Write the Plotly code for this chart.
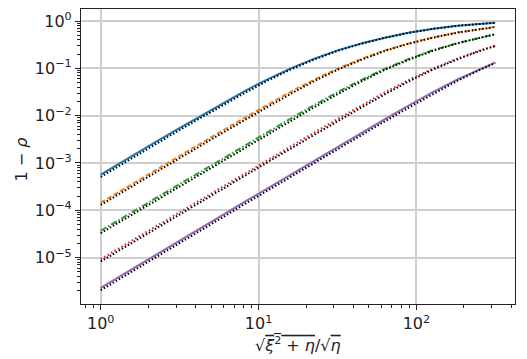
import plotly.graph_objects as go

# x positions (same grid for every curve)
x_vals = [1, 1.41, 2, 2.83, 4, 5.66, 8, 11.3, 16, 22.6, 32, 45.3, 64, 90.5, 128, 181, 256, 316]

# exact curves (coloured)
blue_y = [5.7e-4, 1.14e-3, 2.25e-3, 4.45e-3, 8.7e-3, 0.0168, 0.032, 0.058, 0.100, 0.160,
          0.243, 0.34, 0.45, 0.57, 0.685, 0.79, 0.878, 0.92]
orange_y = [1.45e-4, 2.88e-4, 5.7e-4, 1.14e-3, 2.25e-3, 4.45e-3, 8.7e-3, 0.0168, 0.032, 0.058,
            0.100, 0.160, 0.243, 0.34, 0.45, 0.57, 0.685, 0.75]
green_y = [3.7e-5, 7.3e-5, 1.45e-4, 2.88e-4, 5.7e-4, 1.14e-3, 2.25e-3, 4.45e-3, 8.7e-3, 0.0168,
           0.032, 0.058, 0.100, 0.160, 0.243, 0.34, 0.45, 0.525]
red_y = [9.3e-6, 1.85e-5, 3.7e-5, 7.3e-5, 1.45e-4, 2.88e-4, 5.7e-4, 1.14e-3, 2.25e-3, 4.45e-3,
         8.7e-3, 0.0168, 0.032, 0.058, 0.100, 0.160, 0.243, 0.30]
purple_y = [2.3e-6, 4.6e-6, 9.3e-6, 1.85e-5, 3.7e-5, 7.3e-5, 1.45e-4, 2.88e-4, 5.7e-4, 1.14e-3,
            2.25e-3, 4.45e-3, 8.7e-3, 0.0168, 0.032, 0.058, 0.100, 0.134]

# approximations (black dotted)
blue_ap = [5.1e-4, 1.02e-3, 2.02e-3, 4.0e-3, 7.8e-3, 0.0152, 0.029, 0.054, 0.095, 0.154,
           0.237, 0.335, 0.446, 0.567, 0.684, 0.79, 0.878, 0.92]
orange_ap = [1.3e-4, 2.58e-4, 5.1e-4, 1.02e-3, 2.02e-3, 4.0e-3, 7.8e-3, 0.0152, 0.029, 0.054,
             0.095, 0.154, 0.237, 0.335, 0.446, 0.567, 0.684, 0.75]
green_ap = [3.3e-5, 6.5e-5, 1.3e-4, 2.58e-4, 5.1e-4, 1.02e-3, 2.02e-3, 4.0e-3, 7.8e-3, 0.0152,
            0.029, 0.054, 0.095, 0.154, 0.237, 0.335, 0.446, 0.523]
red_ap = [8.3e-6, 1.65e-5, 3.3e-5, 6.5e-5, 1.3e-4, 2.58e-4, 5.1e-4, 1.02e-3, 2.02e-3, 4.0e-3,
          7.8e-3, 0.0152, 0.029, 0.054, 0.095, 0.154, 0.237, 0.296]
purple_ap = [2.05e-6, 4.1e-6, 8.3e-6, 1.65e-5, 3.3e-5, 6.5e-5, 1.3e-4, 2.58e-4, 5.1e-4, 1.02e-3,
             2.02e-3, 4.0e-3, 7.8e-3, 0.0152, 0.029, 0.054, 0.095, 0.129]

x_ticks = [1, 10, 100]
x_ticktext = ["10<sup>0</sup>", "10<sup>1</sup>", "10<sup>2</sup>"]
y_ticks = [1, 1e-1, 1e-2, 1e-3, 1e-4, 1e-5]
y_ticktext = ["10<sup>0</sup>", "10<sup>−1</sup>", "10<sup>−2</sup>", "10<sup>−3</sup>",
              "10<sup>−4</sup>", "10<sup>−5</sup>"]

curves = [
    (blue_y, blue_ap, "#1f77b4", "solid"),
    (orange_y, orange_ap, "#ff7f0e", "5px,2.5px"),
    (green_y, green_ap, "#2ca02c", "6.5px,2px,1.5px,2px"),
    (red_y, red_ap, "#d62728", "1.5px,2.5px"),
    (purple_y, purple_ap, "#9467bd", "solid"),
]

fig = go.Figure()
for ys, ap, col, dash in curves:
    fig.add_trace(go.Scatter(x=x_vals, y=ys, mode="lines",
                             line=dict(color=col, width=2, dash=dash)))
for ys, ap, col, dash in curves:
    fig.add_trace(go.Scatter(x=x_vals, y=ap, mode="lines",
                             line=dict(color="black", width=2, dash="1.5px,2px")))

minor_x = [0.8, 0.9] + [k * 10 ** e for e in range(0, 3) for k in range(2, 10)]
minor_x = [v for v in minor_x if v < 420 and v not in x_ticks]
minor_y = [k * 10.0 ** e for e in range(-6, 1) for k in range(2, 10)]

# page body has an 8px margin, so the figure is 8px smaller than the window
fig.update_layout(
    width=519, height=351,
    margin=dict(l=73, r=12, t=1, b=55),
    plot_bgcolor="white", paper_bgcolor="white",
    showlegend=False,
    font=dict(family="DejaVu Sans", size=16, color="#222222"),
)
fig.update_xaxes(
    type="log", range=[-0.125, 2.625], automargin=False,
    tickvals=x_ticks, ticktext=x_ticktext,
    ticks="outside", ticklen=5, tickcolor="#222222",
    showgrid=True, gridcolor="#cfcfcf", gridwidth=1.5,
    showline=True, linecolor="#222222", linewidth=1.2, mirror=True,
    zeroline=False,
    minor=dict(tickvals=minor_x, ticks="outside", ticklen=3, tickcolor="#222222", showgrid=False),
)
fig.update_yaxes(
    type="log", range=[-5.98, 0.254], automargin=False,
    tickvals=y_ticks, ticktext=y_ticktext,
    ticks="outside", ticklen=5, tickcolor="#222222",
    showgrid=True, gridcolor="#cfcfcf", gridwidth=1.5,
    showline=True, linecolor="#222222", linewidth=1.2, mirror=True,
    zeroline=False,
    minor=dict(tickvals=minor_y, ticks="outside", ticklen=3, tickcolor="#222222", showgrid=False),
)

# axis titles
fig.add_annotation(
    text="√<span style='text-decoration:overline'><i>ξ</i><sup>2</sup> + <i>η</i></span>/√<span style='text-decoration:overline'><i>η</i></span>",
    xref="paper", yref="paper", x=0.5, y=-0.138, yanchor="middle",
    showarrow=False, font=dict(size=16),
)
fig.add_annotation(
    text="1 − <i>ρ</i>", textangle=-90,
    xref="paper", yref="paper", x=-0.138, y=0.49, xanchor="center", yanchor="middle",
    showarrow=False, font=dict(size=16),
)

fig.write_html("out.html")
